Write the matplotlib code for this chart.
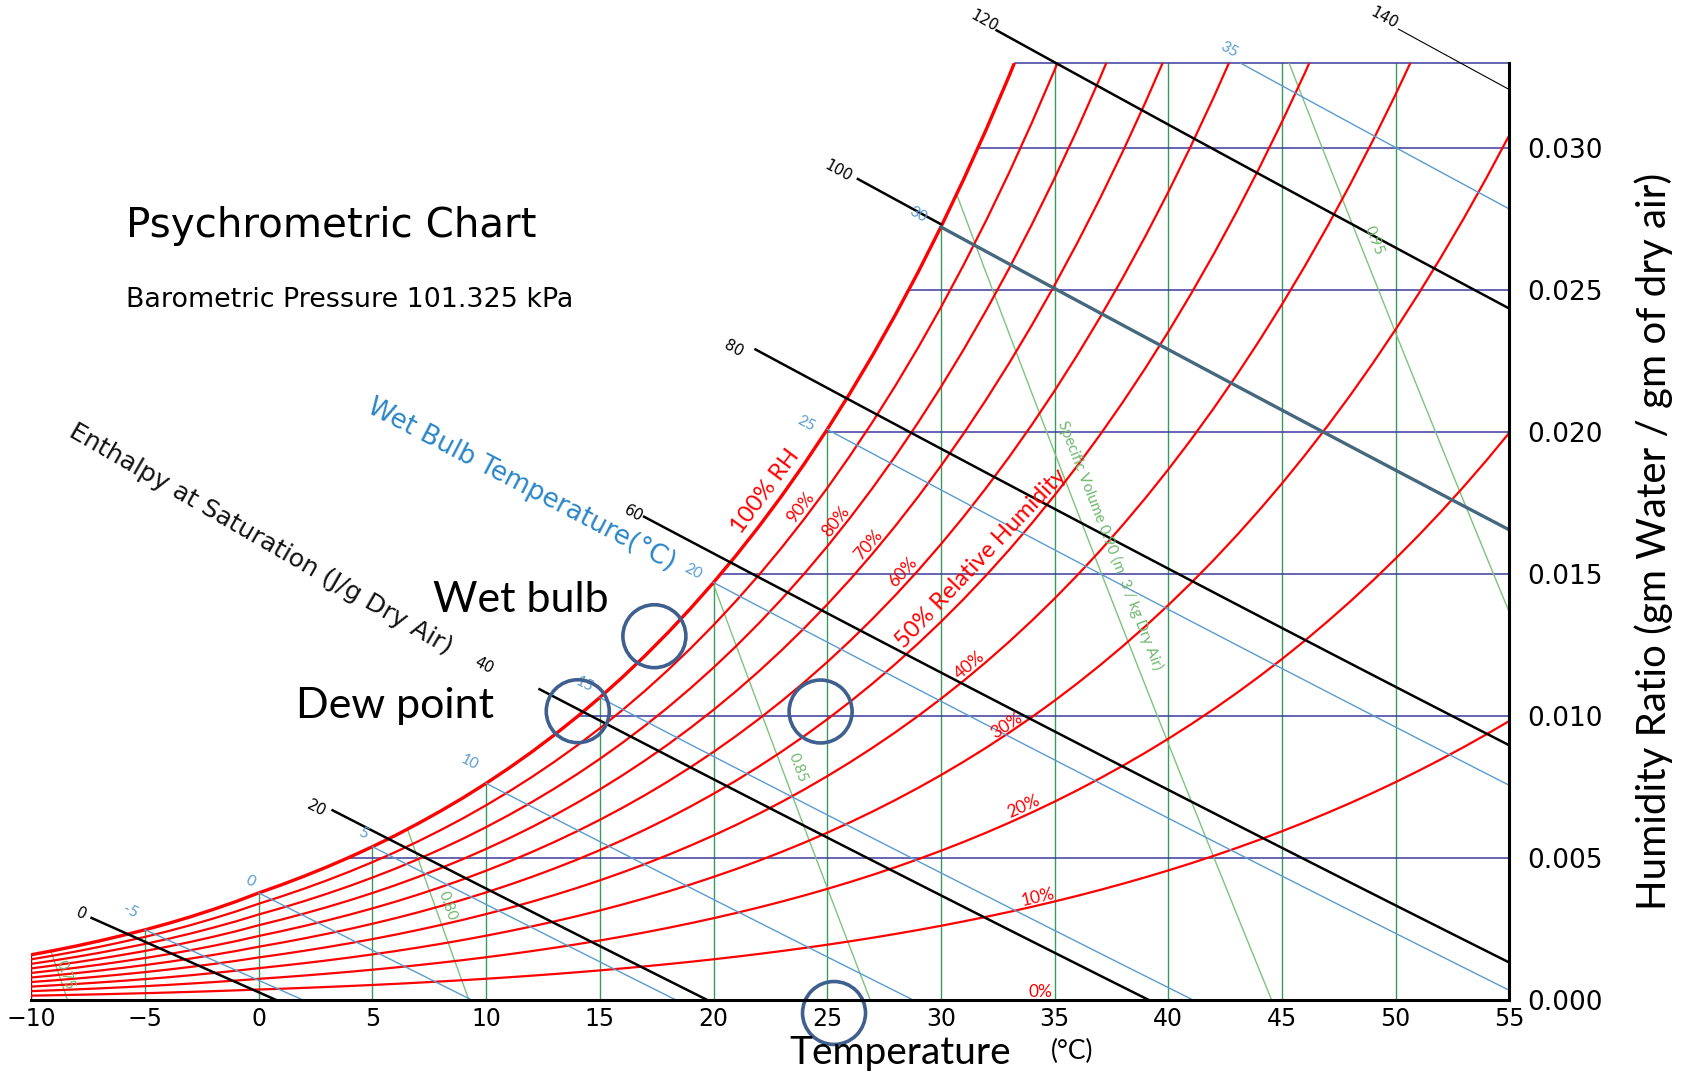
import numpy as np
import matplotlib
matplotlib.use('Agg')
import matplotlib.pyplot as plt
from matplotlib.patches import Ellipse

P_ATM = 101.325  # kPa

# saturation vapour pressure (kPa): over ice below 0 C, over water above
sat_temps = np.arange(-10, 56)
sat_press = np.array([
    0.2599, 0.2842, 0.3104, 0.3389, 0.3696, 0.4019, 0.4373, 0.4758, 0.5177, 0.5623,
    0.6112, 0.6571, 0.7060, 0.7581, 0.8135, 0.8725, 0.9350, 1.0020, 1.0730, 1.1480,
    1.2282, 1.3130, 1.4028, 1.4981, 1.5990, 1.7058, 1.8188, 1.9384, 2.0647, 2.1983,
    2.3393, 2.4882, 2.6453, 2.8111, 2.9858, 3.1699, 3.3639, 3.5681, 3.7831, 4.0092,
    4.2470, 4.4969, 4.7596, 5.0354, 5.3251, 5.6290, 5.9479, 6.2823, 6.6328, 7.0002,
    7.3849, 7.7878, 8.2096, 8.6508, 9.1124, 9.5950, 10.099, 10.627, 11.177, 11.752,
    12.352, 12.978, 13.631, 14.312, 15.022, 15.762])

rh_levels = [10, 20, 30, 40, 50, 60, 70, 80, 90, 100]
dry_bulb_lines = [-5, 0, 5, 10, 15, 20, 25, 30, 35, 40, 45, 50]
humidity_lines = [0.005, 0.010, 0.015, 0.020, 0.025, 0.030, 0.033]
wet_bulb_lines = [-5, 0, 5, 10, 15, 20, 25, 30, 35]
enthalpy_lines = [0, 20, 40, 60, 80, 100, 120, 140]
enthalpy_start = [-7.4, 3.2, 12.3, 16.9, 21.8, 26.3, 32.4, 50.1]
volume_lines = [0.75, 0.80, 0.85, 0.90, 0.95]
x_ticks = list(range(-10, 56, 5))
y_ticks = [0.000, 0.005, 0.010, 0.015, 0.020, 0.025, 0.030]
T_MIN, T_MAX, W_TOP = -10, 55, 0.033

# label positions: (text, T, W)
rh_labels = [(100, '100% RH', 22.27, 0.01792), (90, '90%', 23.84, 0.01735),
             (80, '80%', 25.36, 0.01686), (70, '70%', 26.82, 0.01602),
             (60, '60%', 28.34, 0.01508), (50, '50% Relative Humidity', 31.75, 0.01553),
             (40, '40%', 31.28, 0.01178), (30, '30%', 32.9, 0.00966),
             (20, '20%', 33.65, 0.00682), (10, '10%', 34.27, 0.00364),
             (0, '0%', 34.36, 0.00030)]
wb_label_pos = [(-5.64, 0.00314), (-0.38, 0.00417), (4.60, 0.00587), (9.29, 0.00837),
                (14.31, 0.01110), (19.10, 0.01508), (24.08, 0.02030), (29.0, 0.02765),
                (42.65, 0.03345)]
h_label_pos = [(-7.82, 0.00303), (2.56, 0.00674), (9.91, 0.01178), (16.49, 0.01712),
               (20.9, 0.02292), (25.5, 0.02920), (31.9, 0.03447), (49.5, 0.03458)]
sv_labels = [('0.75', -8.53, 0.00087), ('0.80', 8.29, 0.00333), ('0.85', 23.7, 0.00818),
             ('Specific Volume 0.90 (m  3 / kg Dry Air)', 37.44, 0.01602),
             ('0.95', 49.05, 0.02674)]
# marked points: wet bulb, dew point, state point, dry bulb
circle_pts = [(17.40, 0.01281), (14.03, 0.01017), (24.71, 0.01016), (25.3, -0.00045)]

RED = '#ff0000'
GREEN = '#3a9a5c'
NAVY = '#3c3c9c'
WBLUE = '#5a9bcf'
SVGREEN = '#7cc47c'
CIRCLE = '#3f5f8e'

ws_table = 0.622 * sat_press / (P_ATM - sat_press)


def ws_at(t):
    return np.interp(t, sat_temps, ws_table)


def wb_coef(twb, t):
    if twb >= 0:
        return 2501 - 2.326 * twb, 2501 + 1.86 * t - 4.186 * twb
    return 2830 - 0.24 * twb, 2830 + 1.86 * t - 2.1 * twb


def wb_w(twb, t, ws):
    t = np.asarray(t, float)
    a, b = wb_coef(twb, t)
    return (a * ws - 1.006 * (t - twb)) / b


def wb_t_end(twb, ws):
    a, _ = wb_coef(twb, 0.0)
    return twb + a * ws / 1.006


def sv_t(v, w):
    return v * P_ATM / (0.287042 * (1 + 1.6078 * np.asarray(w))) - 273.15


plt.rcParams['font.family'] = ['DejaVu Sans']
fig = plt.figure(figsize=(16.9, 10.76), dpi=100)
ax = fig.add_axes([0.01852, 0.07045, 0.87462, 0.87146])
ax.set_xlim(T_MIN, T_MAX)
ax.set_ylim(0, W_TOP)


def screen_angle(p0, p1):
    (x0, y0), (x1, y1) = ax.transData.transform([p0, p1])
    ang = np.degrees(np.arctan2(y1 - y0, x1 - x0))
    if ang > 90:
        ang -= 180
    if ang < -90:
        ang += 180
    return ang


# dry bulb verticals
for t in dry_bulb_lines:
    ax.plot([t, t], [0, ws_at(t)], color=GREEN, lw=1.0, zorder=1)
ax.plot([T_MIN, T_MIN], [0, ws_table[0]], color='#6a1010', lw=1.0, zorder=1)

# humidity ratio horizontals
for w in humidity_lines:
    t_dew = np.interp(w, ws_table, sat_temps)
    ax.plot([t_dew, T_MAX], [w, w], color=NAVY, lw=1.1, zorder=1, clip_on=False)

# specific volume
v_sat = 0.287042 * (sat_temps + 273.15) * (1 + 1.6078 * ws_table) / P_ATM
for v in volume_lines:
    t_int = np.interp(v, v_sat, sat_temps)
    w_top = min(ws_at(t_int), W_TOP)
    ww = np.linspace(0, w_top, 12)
    ax.plot(sv_t(v, ww), ww, color=SVGREEN, lw=1.0, zorder=2)
for (txt, t, w), v in zip(sv_labels, volume_lines):
    ang = screen_angle((sv_t(v, w + 0.001), w + 0.001), (sv_t(v, w), w))
    ax.text(t, w, txt, color='#6fb86f', fontsize=11, family='Lato', rotation=ang,
            ha='center', va='center', rotation_mode='anchor', zorder=6)

# relative humidity curves
for rh in rh_levels:
    pv = rh / 100 * sat_press
    w = 0.622 * pv / (P_ATM - pv)
    ax.plot(sat_temps, w, color=RED, lw=2.4 if rh == 100 else 1.6, zorder=3)
for rh, txt, t, w in rh_labels:
    t0 = np.floor(t)
    pv = rh / 100 * np.interp([t0, t0 + 1], sat_temps, sat_press)
    wc = 0.622 * pv / (P_ATM - pv)
    ang = screen_angle((t0, wc[0]), (t0 + 1, wc[1]))
    big = rh in (100, 50)
    ax.text(t, w, txt, color=RED, fontsize=17 if big else 12.5, family='Lato',
            rotation=ang, ha='center', va='center', rotation_mode='anchor', zorder=6)

# enthalpy lines (wet bulb lines through the saturation enthalpy)
h_sat = 1.006 * sat_temps + ws_table * (2501 + 1.86 * sat_temps)
for h, t0, (lt, lw_) in zip(enthalpy_lines, enthalpy_start, h_label_pos):
    ts = np.interp(h, h_sat, sat_temps)
    ws = ws_at(ts)
    t1 = min(wb_t_end(ts, ws), T_MAX)
    # where a wet bulb line runs on top of it, the black line stops at saturation
    if min(abs(ts - twb) for twb in wet_bulb_lines) < 0.2:
        t1 = ts
    tt = np.linspace(t0, t1, 30)
    ax.plot(tt, wb_w(ts, tt, ws), color='black', lw=0.8 if h == 140 else 1.8,
            zorder=4, clip_on=False, solid_capstyle='butt')
    ang = screen_angle((lt, wb_w(ts, lt, ws)), (lt + 1, wb_w(ts, lt + 1, ws)))
    ax.text(lt, lw_, str(h), color='black', fontsize=11, rotation=ang,
            ha='center', va='center', rotation_mode='anchor', zorder=6)

# wet bulb lines (the 30 C one coincides with the 100 enthalpy line)
for twb, (lt, lw_) in zip(wet_bulb_lines, wb_label_pos):
    ws = ws_at(twb)
    t1 = min(wb_t_end(twb, ws), T_MAX)
    tt = np.linspace(twb, t1, 30)
    dark = twb == 30
    ax.plot(tt, wb_w(twb, tt, ws), color='#45687f' if dark else WBLUE,
            lw=2.4 if dark else 1.0, zorder=5)
    ang = screen_angle((twb, ws), (twb + 1, wb_w(twb, twb + 1, ws)))
    ax.text(lt, lw_, str(twb), color=WBLUE, fontsize=11, family='Lato', rotation=ang,
            ha='center', va='center', rotation_mode='anchor', zorder=6)

# highlighted points
for t, w in circle_pts:
    ax.add_patch(Ellipse((t, w), 2.77, 0.002214, fill=False, edgecolor=CIRCLE,
                         lw=2.6, zorder=7, clip_on=False))

# axes styling
for side in ('top', 'left'):
    ax.spines[side].set_visible(False)
for side in ('bottom', 'right'):
    ax.spines[side].set_linewidth(2.2)
    ax.spines[side].set_zorder(8)
ax.yaxis.tick_right()
ax.set_xticks(x_ticks)
ax.set_yticks(y_ticks)
ax.set_yticklabels(['%.3f' % v for v in y_ticks])
ax.tick_params(axis='both', length=0)
ax.tick_params(axis='x', labelsize=17, pad=5)
ax.tick_params(axis='y', labelsize=19, pad=13)
ax.set_xticklabels([str(v).replace('-', '\u2212') for v in x_ticks])

# titles and annotations
fig.text(0.0746, 0.790, 'Psychrometric Chart', fontsize=29.1, va='center')
fig.text(0.0746, 0.7216, 'Barometric Pressure 101.325 kPa', fontsize=19.4, va='center')
fig.text(0.3087, 0.549, 'Wet Bulb Temperature(\u00b0C)', color='#2a86c8', fontsize=18.8,
         rotation=-27.5, ha='center', va='center')
fig.text(0.1543, 0.499, 'Enthalpy at Saturation (J/g Dry Air)', color='#111111',
         fontsize=18.2, rotation=-30, ha='center', va='center')
fig.text(0.308, 0.442, 'Wet bulb', fontsize=31, family='Lato', ha='center', va='center')
fig.text(0.234, 0.344, 'Dew point', fontsize=31, family='Lato', ha='center', va='center')
fig.text(0.5325, 0.0214, 'Temperature', fontsize=28, family='Lato', ha='center', va='center')
fig.text(0.6343, 0.0232, '(\u00b0C)', fontsize=19, family='Lato', ha='center', va='center')
fig.text(0.9787, 0.497, 'Humidity Ratio (gm Water / gm of dry air)', fontsize=29,
         family='Lato', rotation=90, ha='center', va='center')

fig.savefig('out.png', dpi=100)
